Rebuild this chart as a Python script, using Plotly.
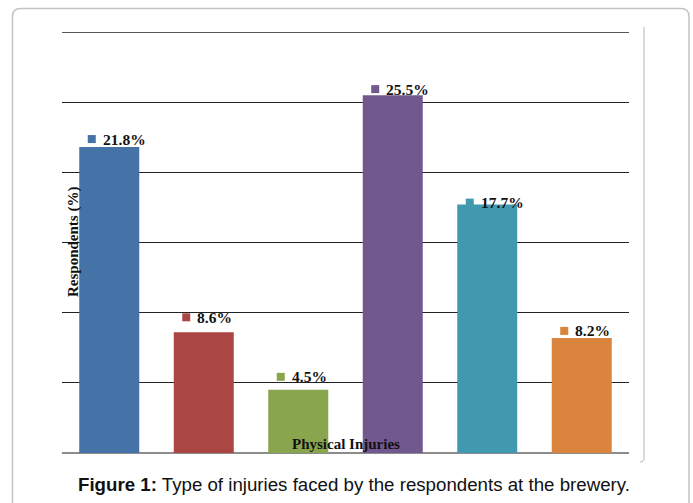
import plotly.graph_objects as go

# ---- data ----
values = [21.8, 8.6, 4.5, 25.5, 17.7, 8.2]
value_labels = ["21.8%", "8.6%", "4.5%", "25.5%", "17.7%", "8.2%"]
y_title = "Respondents (%)"
x_title = "Physical Injuries"
caption = "<b>Figure 1:</b> Type of injuries faced by the respondents at the brewery."

# ---- style ----
colors = ["#4572A7", "#AA4643", "#89A54E", "#71588F", "#4198AF", "#DB843D"]
label_lift = [8, 15, 13, 6, 2, 7]          # px above bar top (label centre)
W, H = 693, 503
L, R, T, B = 62, 629, 32, 453               # plot area in pixels

def px(x):
    return (x - L) / (R - L)

def py(y):
    return (B - y) / (B - T)

xs = list(range(len(values)))

fig = go.Figure(go.Bar(x=xs, y=values, marker=dict(color=colors, line=dict(width=0)),
                       hoverinfo="skip"))

annotations = []
shapes = []
for i, (v, lab, c, lift) in enumerate(zip(values, value_labels, colors, label_lift)):
    shapes.append(dict(type="rect", xref="x", yref="y", xsizemode="pixel", ysizemode="pixel",
                       xanchor=i, yanchor=v, x0=-21.5, x1=-13.5, y0=lift - 4, y1=lift + 4,
                       fillcolor=c, line=dict(width=0)))
    annotations.append(dict(x=i, y=v, xref="x", yref="y", text=lab, showarrow=False,
                            xanchor="left", yanchor="middle", xshift=-8.5, yshift=lift,
                            font=dict(family="Liberation Serif", size=15.5, color="#111111",
                                      weight="bold")))

annotations.append(dict(x=px(73.5), y=0.5, xref="paper", yref="paper", text="<b>%s</b>" % y_title,
                        textangle=-90, showarrow=False, xanchor="center", yanchor="middle",
                        font=dict(family="Liberation Serif", size=15, color="#111111")))
annotations.append(dict(x=0.5, y=py(444), xref="paper", yref="paper", text="<b>%s</b>" % x_title,
                        showarrow=False, xanchor="center", yanchor="middle",
                        font=dict(family="Liberation Serif", size=15, color="#111111")))
annotations.append(dict(x=px(353.5), y=py(484), xref="paper", yref="paper", text=caption,
                        showarrow=False, xanchor="center", yanchor="middle",
                        font=dict(family="Liberation Sans, Arial", size=18.7, color="#111111")))

def path(points):
    s = ""
    for cmd, pts in points:
        s += cmd + " " + " ".join("%.5f,%.5f" % (px(a), py(b)) for a, b in pts) + " "
    return s.strip()

outer = path([("M", [(12.5, 515)]), ("L", [(12.5, 16.5)]), ("Q", [(12.5, 8.5), (20.5, 8.5)]),
              ("L", [(681, 8.5)]), ("Q", [(689, 8.5), (689, 16.5)]), ("L", [(689, 515)])])
shapes.append(dict(type="path", xref="paper", yref="paper", path=outer,
                   line=dict(color="#c4c4c4", width=1.5), layer="below"))
inner = path([("M", [(644, 27)]), ("L", [(644, 458)]), ("Q", [(644, 462), (640, 462)])])
shapes.append(dict(type="path", xref="paper", yref="paper", path=inner,
                   line=dict(color="#b4b4b4", width=1), layer="below"))
# top gridline (30 %) drawn explicitly so it is never dropped at the range edge
shapes.append(dict(type="line", xref="paper", yref="y", x0=0, x1=1, y0=30, y1=30,
                   line=dict(color="#222222", width=1.4), layer="below"))

fig.update_layout(
    width=W, height=H,
    margin=dict(l=L, r=W - R, t=T, b=H - B, pad=0),
    paper_bgcolor="white", plot_bgcolor="white",
    bargap=0.365, showlegend=False,
    xaxis=dict(range=[-0.5, len(values) - 0.5], showticklabels=False, showgrid=False,
               zeroline=False, showline=False, ticks=""),
    yaxis=dict(range=[0, 30], dtick=5, showticklabels=False, showgrid=True,
               gridcolor="#222222", gridwidth=1.4, zeroline=True, zerolinecolor="#8c8c8c",
               zerolinewidth=2, showline=False, ticks=""),
    annotations=annotations, shapes=shapes,
)

fig.write_html("out.html", config={"displayModeBar": False},
               post_script="document.body.style.margin='0';")
